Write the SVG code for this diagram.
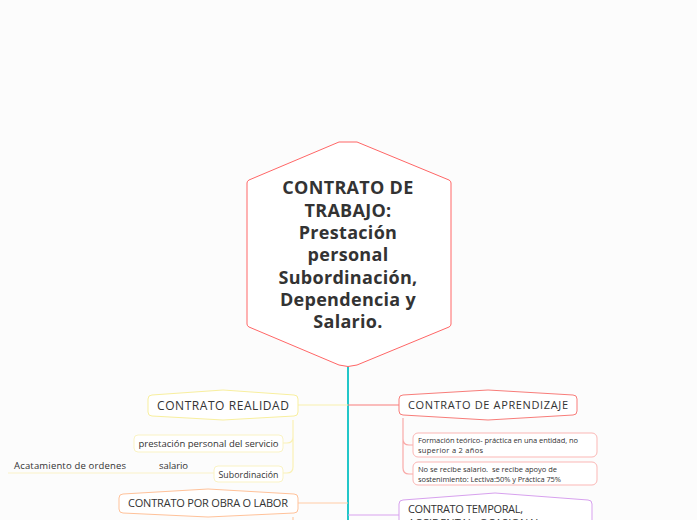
<svg xmlns="http://www.w3.org/2000/svg" width="697" height="520" viewBox="0 0 697 520">
<style>
.bg{fill:#fcfcfc}
.t{font-family:"Open Sans","Noto Sans",sans-serif;fill:#333}
.main{font-size:18px;font-weight:700;text-anchor:middle;letter-spacing:0.3px}
.l1{font-size:11px;text-anchor:middle}
.l3{font-size:7.5px}
.box{fill:#fff;stroke-width:1}
.c{fill:none;stroke-width:1.2}
</style>
<rect class="bg" width="697" height="520"/>
<g id="connectors">
  <line x1="348" y1="366" x2="348" y2="520" stroke="#22c7c9" stroke-width="2"/>
  <path class="c" d="M298 405 H348" stroke="#f8f0ae"/>
  <path class="c" d="M298 503 H348" stroke="#ffcca6"/>
  <path class="c" d="M348 405 H399" stroke="#f87d7a"/>
  <path class="c" d="M348 515 H399" stroke="#d7a1ee"/>
  <path class="c" d="M293 420 V437 Q293 443 287 443 H283 M293 437 V467 Q293 473 287 473 H283" stroke="#faf1b5"/>
  <path class="c" d="M214 473 H8" stroke="#faf1c8" stroke-width="1.5"/>
  <path class="c" d="M293 517 V520" stroke="#ffcca6"/>
  <path class="c" d="M403 418 V439 Q403 445 409 445 H413 M403 439 V468 Q403 474 409 474 H413" stroke="#f9aaa8"/>
</g>
<g id="central">
  <path d="M339 142 H357 L449 180 Q451 181 451 183 V324 Q451 326 449 327 L357 365 Q348 368 339 365 L249 327 Q247 326 247 324 V183 Q247 181 249 180 Z" fill="#fff" stroke="#f66" stroke-width="1"/>
  <text class="t main" x="348" y="194">CONTRATO DE</text>
  <text class="t main" x="348" y="216.5">TRABAJO:</text>
  <text class="t main" x="348" y="239">Prestación</text>
  <text class="t main" x="348" y="261">personal</text>
  <text class="t main" x="348" y="283.5">Subordinación,</text>
  <text class="t main" x="348" y="306">Dependencia y</text>
  <text class="t main" x="348" y="328">Salario.</text>
</g>
<g id="realidad">
  <path class="box" stroke="#f8ef9f" d="M152 395 L223 390 L294 395 Q298 395 298 399 V412 Q298 416 294 416 L223 420 L152 416 Q148 416 148 412 V399 Q148 395 152 395 Z"/>
  <text class="t" x="223" y="409.5" font-size="12" text-anchor="middle" textLength="132" lengthAdjust="spacing">CONTRATO REALIDAD</text>
</g>
<g id="prestacion">
  <rect class="box" stroke="#faf3c4" x="134" y="435" width="149" height="17" rx="4"/>
  <text class="t" x="208.5" y="447" font-size="9.5" text-anchor="middle" textLength="140" lengthAdjust="spacing">prestación personal del servicio</text>
</g>
<g id="subordinacion">
  <rect class="box" stroke="#faf3c4" x="214" y="466" width="69" height="16" rx="4"/>
  <text class="t" x="248.5" y="477.5" font-size="8.8" text-anchor="middle" textLength="60" lengthAdjust="spacing">Subordinación</text>
</g>
<g id="acatamiento">
  <text class="t" x="14" y="469" font-size="9.5" textLength="112" lengthAdjust="spacing">Acatamiento de ordenes</text>
</g>
<g id="salario">
  <text class="t" x="159" y="469" font-size="9.5" textLength="29" lengthAdjust="spacing">salario</text>
</g>
<g id="obra">
  <path class="box" stroke="#ffc29a" d="M123 494 L208 489 L294 494 Q298 494 298 498 V509 Q298 513 294 513 L208 517 L123 513 Q119 513 119 509 V498 Q119 494 123 494 Z"/>
  <text class="t l1" x="208" y="507" textLength="160" lengthAdjust="spacing">CONTRATO POR OBRA O LABOR</text>
</g>
<g id="aprendizaje">
  <path class="box" stroke="#f87d7a" d="M403 395 L488 390 L573 395 Q577 395 577 399 V411 Q577 415 573 415 L488 420 L403 415 Q399 415 399 411 V399 Q399 395 403 395 Z"/>
  <text class="t l1" x="488" y="409" textLength="160" lengthAdjust="spacing">CONTRATO DE APRENDIZAJE</text>
</g>
<g id="formacion">
  <rect class="box" stroke="#fbb7b5" x="413" y="433" width="184" height="24" rx="5"/>
  <text class="t l3" x="418" y="443" textLength="160" lengthAdjust="spacing">Formación teórico- práctica en una entidad, no</text>
  <text class="t l3" x="418" y="453" textLength="65" lengthAdjust="spacing">superior a 2 años</text>
</g>
<g id="salario-apr">
  <rect class="box" stroke="#fbb7b5" x="413" y="462" width="184" height="23" rx="5"/>
  <text class="t l3" x="418" y="471.5" textLength="139" lengthAdjust="spacing" xml:space="preserve">No se recibe salario.  se recibe apoyo de</text>
  <text class="t l3" x="418" y="481.5" textLength="143" lengthAdjust="spacing">sostenimiento: Lectiva:50% y Práctica 75%</text>
</g>
<g id="temporal">
  <path class="box" stroke="#d7a1ee" d="M403 500 L495 493 L588 500 Q592 500 592 504 V540 H399 V504 Q399 500 403 500 Z"/>
  <text class="t" x="408" y="513" font-size="11" textLength="115" lengthAdjust="spacing">CONTRATO TEMPORAL,</text>
  <text class="t" x="408" y="526.5" font-size="11" textLength="133" lengthAdjust="spacing">ACCIDENTAL, OCASIONAL</text>
</g>
</svg>
